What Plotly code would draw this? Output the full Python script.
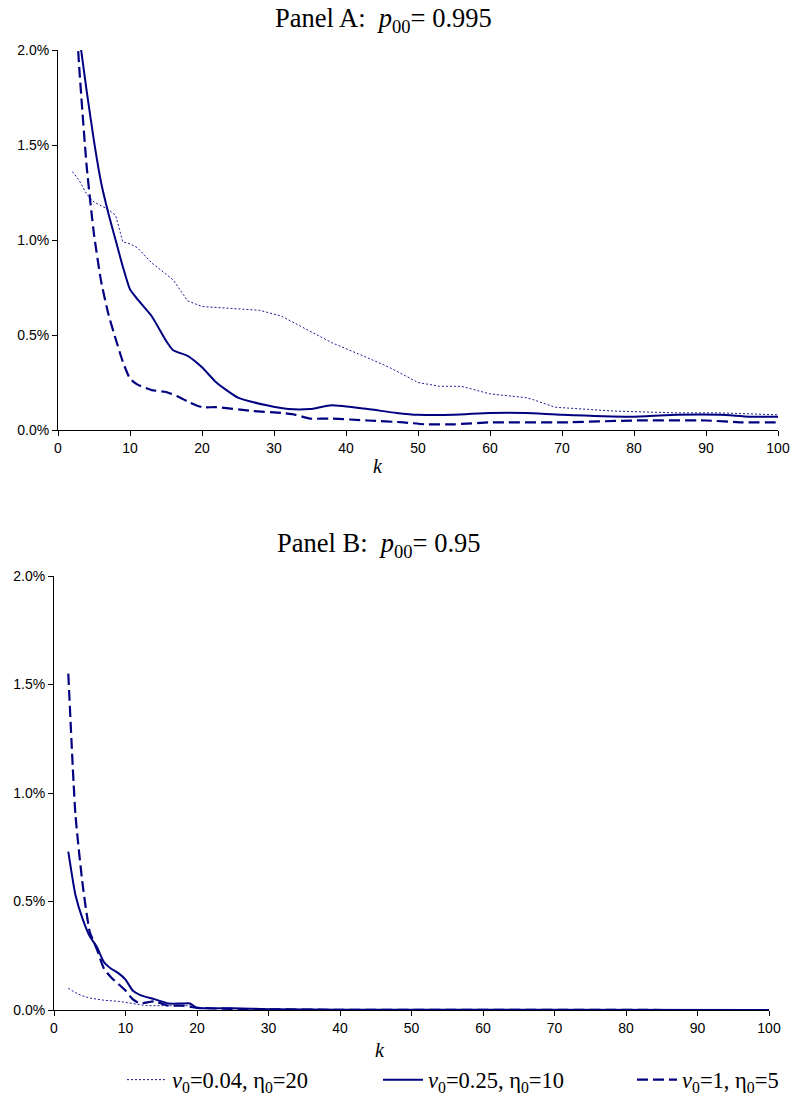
import plotly.graph_objects as go

# ---------------- data (values in %) ----------------
# Panel A: p00 = 0.995
a_dot_k = [2, 3, 4, 5, 6, 7, 8, 9, 10, 11, 13, 16, 18, 20, 24, 28, 31, 34, 38, 43, 46, 50, 53, 56, 60, 65, 66, 69, 77, 86, 92, 100]
a_dot_v = [1.36, 1.31, 1.24, 1.20, 1.18, 1.16, 1.13, 0.99, 0.98, 0.96, 0.88, 0.79, 0.68, 0.65, 0.64, 0.63, 0.60, 0.54, 0.46, 0.38, 0.33, 0.25, 0.23, 0.23, 0.19, 0.17, 0.16, 0.12, 0.10, 0.09, 0.09, 0.08]

a_sol_k = [2, 3, 4, 5, 6, 7, 8, 9, 10, 11, 13, 15, 16, 18, 20, 22, 25, 29, 32, 35, 38, 43, 47, 50, 55, 60, 65, 70, 80, 86, 92, 96, 100]
a_sol_v = [2.35, 2.06, 1.78, 1.52, 1.30, 1.14, 1.00, 0.86, 0.74, 0.69, 0.60, 0.47, 0.42, 0.39, 0.33, 0.25, 0.17, 0.13, 0.11, 0.11, 0.13, 0.11, 0.09, 0.08, 0.08, 0.09, 0.09, 0.08, 0.07, 0.08, 0.08, 0.07, 0.07]

a_das_k = [2, 3, 4, 5, 6, 7, 8, 9, 10, 11, 13, 15, 17, 18, 20, 22, 27, 31, 33, 35, 38, 43, 48, 51, 55, 60, 70, 80, 90, 95, 100]
a_das_v = [2.50, 1.88, 1.38, 1.03, 0.78, 0.61, 0.48, 0.36, 0.27, 0.24, 0.21, 0.20, 0.17, 0.15, 0.12, 0.12, 0.10, 0.09, 0.08, 0.06, 0.06, 0.05, 0.04, 0.03, 0.03, 0.04, 0.04, 0.05, 0.05, 0.04, 0.04]

# Panel B: p00 = 0.95
b_dot_k = [2, 3, 4, 5, 7, 9, 11, 13, 15, 17, 19, 20, 30, 100]
b_dot_v = [0.10, 0.08, 0.065, 0.055, 0.045, 0.04, 0.03, 0.02, 0.02, 0.02, 0.02, 0.01, 0.003, 0.0]

b_sol_k = [2, 3, 4, 5, 6, 7, 8, 9, 10, 11, 12, 14, 16, 18, 19, 20, 25, 30, 40, 100]
b_sol_v = [0.73, 0.53, 0.42, 0.34, 0.29, 0.22, 0.19, 0.17, 0.14, 0.09, 0.07, 0.05, 0.03, 0.03, 0.03, 0.01, 0.008, 0.004, 0.001, 0.0]

b_das_k = [2, 3, 4, 5, 6, 7, 8, 9, 10, 11, 12, 14, 16, 18, 20, 25, 30, 40, 100]
b_das_v = [1.55, 0.90, 0.58, 0.36, 0.28, 0.19, 0.15, 0.12, 0.09, 0.05, 0.03, 0.04, 0.02, 0.02, 0.01, 0.005, 0.003, 0.001, 0.0]

series_names = ["<i>v</i><sub>0</sub>=0.04, η<sub>0</sub>=20",
                "<i>v</i><sub>0</sub>=0.25, η<sub>0</sub>=10",
                "<i>v</i><sub>0</sub>=1, η<sub>0</sub>=5"]
panel_titles = ["Panel A:  <i>p</i><sub>00</sub>= 0.995",
                "Panel B:  <i>p</i><sub>00</sub>= 0.95"]

# ---------------- figure ----------------
W, H = 794, 1097
NAVY = "#000080"
styles = [dict(color="#1a1a99", width=1, dash="2px,2px"),
          dict(color=NAVY, width=2, dash="solid"),
          dict(color=NAVY, width=2.2, dash="11px,5px")]
shapes_ = ["linear", "spline", "spline"]

fig = go.Figure()

def pct(v):
    return [x / 100.0 for x in v]

panelA = [(a_dot_k, a_dot_v), (a_sol_k, a_sol_v), (a_das_k, a_das_v)]
panelB = [(b_dot_k, b_dot_v), (b_sol_k, b_sol_v), (b_das_k, b_das_v)]
legends = ["legend", "legend2", "legend3"]

for i, (k, v) in enumerate(panelA):
    fig.add_trace(go.Scatter(x=k, y=pct(v), mode="lines",
                             line=dict(shape=shapes_[i], smoothing=0.5, **styles[i]),
                             name=series_names[i], legend=legends[i],
                             xaxis="x", yaxis="y", showlegend=True))
for i, (k, v) in enumerate(panelB):
    fig.add_trace(go.Scatter(x=k, y=pct(v), mode="lines",
                             line=dict(shape=shapes_[i], smoothing=0.5, **styles[i]),
                             name=series_names[i], xaxis="x2", yaxis="y2",
                             showlegend=False))

def fx(x):
    return x / W

def fy(y):
    return 1 - y / H

def px_x(a, b):
    return [fx(a), fx(b)]

def px_y(top, bottom):
    return [fy(bottom), fy(top)]

tickfont = dict(family="Liberation Sans, Arial", size=14, color="black")
xcommon = dict(range=[0, 100], dtick=10, tick0=0, showgrid=False, zeroline=False,
               showline=True, linecolor="black", linewidth=1, ticks="outside",
               ticklen=5, tickcolor="black", tickfont=tickfont, automargin=False,
               ticklabeloverflow="allow")
ycommon = dict(range=[0, 0.02], dtick=0.005, tick0=0, tickformat=".1%",
               showgrid=False, zeroline=False, showline=True, linecolor="black",
               linewidth=1, ticks="outside", ticklen=5, tickcolor="black",
               tickfont=tickfont, automargin=False, ticklabeloverflow="allow")

leg_common = dict(orientation="h", xanchor="left", yanchor="middle",
                  font=dict(family="Liberation Serif, Times New Roman", size=22.5, color="black"),
                  bgcolor="rgba(0,0,0,0)", itemwidth=40, traceorder="normal")
ly = fy(1080)

fig.update_layout(
    width=W, height=H,
    margin=dict(l=0, r=0, t=0, b=0, autoexpand=False),
    paper_bgcolor="white", plot_bgcolor="white",
    xaxis=dict(domain=px_x(58, 778), anchor="y", **xcommon),
    yaxis=dict(domain=px_y(50, 430), anchor="x", **ycommon),
    xaxis2=dict(domain=px_x(54, 769), anchor="y2", **xcommon),
    yaxis2=dict(domain=px_y(576, 1010), anchor="x2", **ycommon),
    legend=dict(x=fx(122), y=ly, **leg_common),
    legend2=dict(x=fx(378), y=ly, **leg_common),
    legend3=dict(x=fx(632), y=ly, **leg_common),
)

serif = "Liberation Serif, Times New Roman"
ann = dict(xref="paper", yref="paper", showarrow=False, xanchor="center", yanchor="middle")
fig.add_annotation(text=panel_titles[0], x=fx(383), y=fy(20),
                   font=dict(family=serif, size=26.5, color="black"), **ann)
fig.add_annotation(text=panel_titles[1], x=fx(379), y=fy(545),
                   font=dict(family=serif, size=26.5, color="black"), **ann)
fig.add_annotation(text="<i>k</i>", x=fx(378), y=fy(466),
                   font=dict(family=serif, size=20, color="black"), **ann)
fig.add_annotation(text="<i>k</i>", x=fx(380), y=fy(1050),
                   font=dict(family=serif, size=20, color="black"), **ann)

# remove the default 8px page margin so the figure fills the window exactly
fig.write_html("out.html", config={"displayModeBar": False},
               post_script="document.body.style.margin='0';document.body.style.overflow='hidden';")
